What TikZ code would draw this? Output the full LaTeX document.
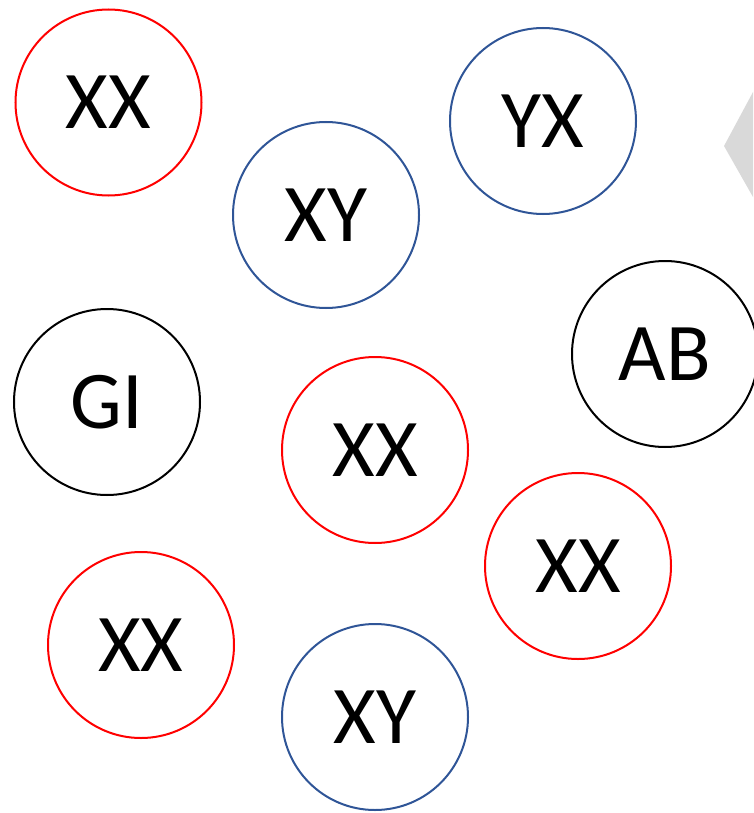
\documentclass[tikz,border=0pt]{standalone}
\usepackage{fontspec}
\setmainfont{Carlito}
\definecolor{cred}{RGB}{255,0,0}
\definecolor{cblue}{RGB}{47,85,151}
\definecolor{cgray}{RGB}{217,217,217}
\tikzset{
  ball/.style={circle, draw, line width=2pt, minimum size=186pt, inner sep=0pt,
    font=\fontsize{82}{82}\selectfont},
  redball/.style={ball, draw=cred},
  blueball/.style={ball, draw=cblue},
  blackball/.style={ball, draw=black}
}
\begin{document}
\begin{tikzpicture}[x=1pt,y=-1pt]
\useasboundingbox (0,0) rectangle (753,813);
\fill[cgray] (753,92) -- (724,146) -- (753,197) -- cycle;
\node[redball] (xx1) at (108.5,102.5) {XX};
\node[blueball] (yx) at (543,121) {YX};
\node[blueball] (xy1) at (326,215) {XY};
\node[blackball] (ab) at (665,354) {AB};
\node[blackball] (gi) at (107,402) {GI};
\node[redball] (xx2) at (375,450) {XX};
\node[redball] (xx3) at (578,566) {XX};
\node[redball] (xx4) at (141,645) {XX};
\node[blueball] (xy2) at (375,717) {XY};
\end{tikzpicture}
\end{document}
